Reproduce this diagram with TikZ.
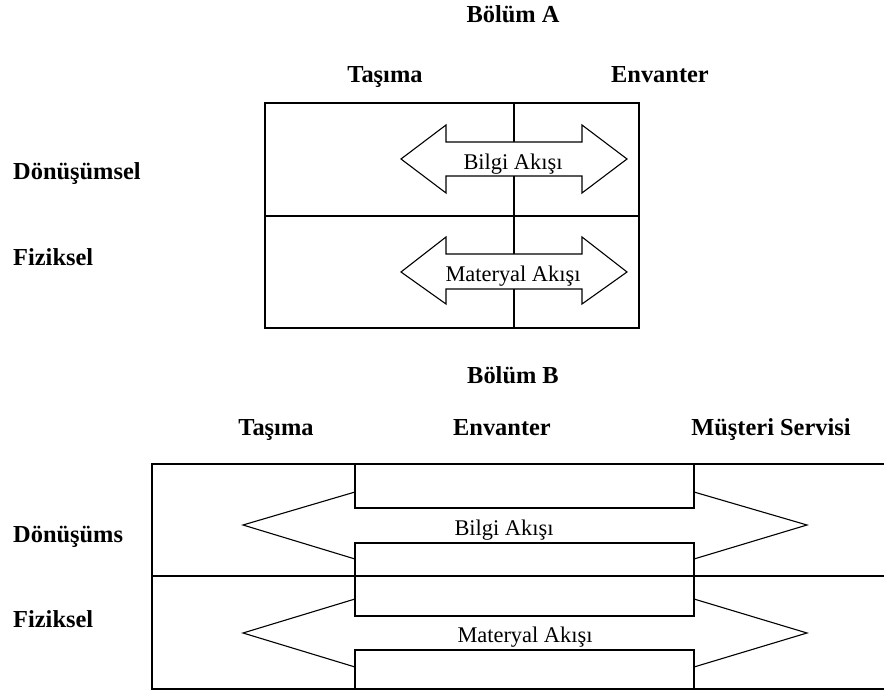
\documentclass[tikz,border=0pt]{standalone}
\usepackage{fontspec}
\setmainfont{Liberation Serif}
\begin{document}
\begin{tikzpicture}[x=1pt,y=-1pt,
  lbl/.style={font=\fontsize{24.4}{28}\selectfont\bfseries, inner sep=0pt},
  flowtxt/.style={font=\fontsize{22.4}{26}\selectfont, inner sep=0pt},
  ln/.style={line width=1.1pt, line join=miter},
  bigarrow/.style={ln, fill=white}]
\useasboundingbox (0,0) rectangle (884,692);

% ---------- Part A ----------
\node[lbl, anchor=base] (ttlA) at (513,23) {Bölüm A};
\node[lbl, anchor=base] (tasA) at (385,83) {Taşıma};
\node[lbl, anchor=base] (envA) at (660,83) {Envanter};
\node[lbl, anchor=base west] (donA) at (13,180) {Dönüşümsel};
\node[lbl, anchor=base west] (fizA) at (13,266) {Fiziksel};

\draw[ln] (265,103) rectangle (639,328);
\draw[ln] (265,216) -- (639,216);
\draw[ln] (514,103) -- (514,328);

\draw[bigarrow] (401,159) -- (446,125) -- (446,142) -- (582,142) -- (582,125)
  -- (627,159) -- (582,193) -- (582,176) -- (446,176) -- (446,193) -- cycle;
\draw[bigarrow] (401,272) -- (446,237) -- (446,254) -- (582,254) -- (582,237)
  -- (627,272) -- (582,304) -- (582,289) -- (446,289) -- (446,304) -- cycle;
\node[flowtxt, anchor=base] (bilA) at (513,170) {Bilgi Akışı};
\node[flowtxt, anchor=base] (matA) at (513,282) {Materyal Akışı};

% ---------- Part B ----------
\node[lbl, anchor=base] (ttlB) at (513,384) {Bölüm B};
\node[lbl, anchor=base] (tasB) at (276,436) {Taşıma};
\node[lbl, anchor=base] (envB) at (502,436) {Envanter};
\node[lbl, anchor=base] (musB) at (771,436) {Müşteri Servisi};
\node[lbl, anchor=base west] (donB) at (13,542) {Dönüşüms};
\node[lbl, anchor=base west] (fizB) at (13,627) {Fiziksel};

\draw[ln] (884,464) -- (152,464) -- (152,689) -- (884,689);
\draw[ln] (152,576) -- (884,576);

% upper band (information flow)
\draw[ln] (355,464) -- (355,508) -- (694,508) -- (694,464);
\draw[ln] (355,576) -- (355,543) -- (694,543) -- (694,576);
\draw[ln] (355,492) -- (243,525) -- (355,559);
\draw[ln] (694,492) -- (807,525) -- (694,559);
% lower band (material flow)
\draw[ln] (355,576) -- (355,616) -- (694,616) -- (694,576);
\draw[ln] (355,689) -- (355,650) -- (694,650) -- (694,689);
\draw[ln] (355,599) -- (243,633) -- (355,667);
\draw[ln] (694,599) -- (807,633) -- (694,667);

\node[flowtxt, anchor=base] (bilB) at (504,535) {Bilgi Akışı};
\node[flowtxt, anchor=base] (matB) at (525,642) {Materyal Akışı};
\end{tikzpicture}
\end{document}
